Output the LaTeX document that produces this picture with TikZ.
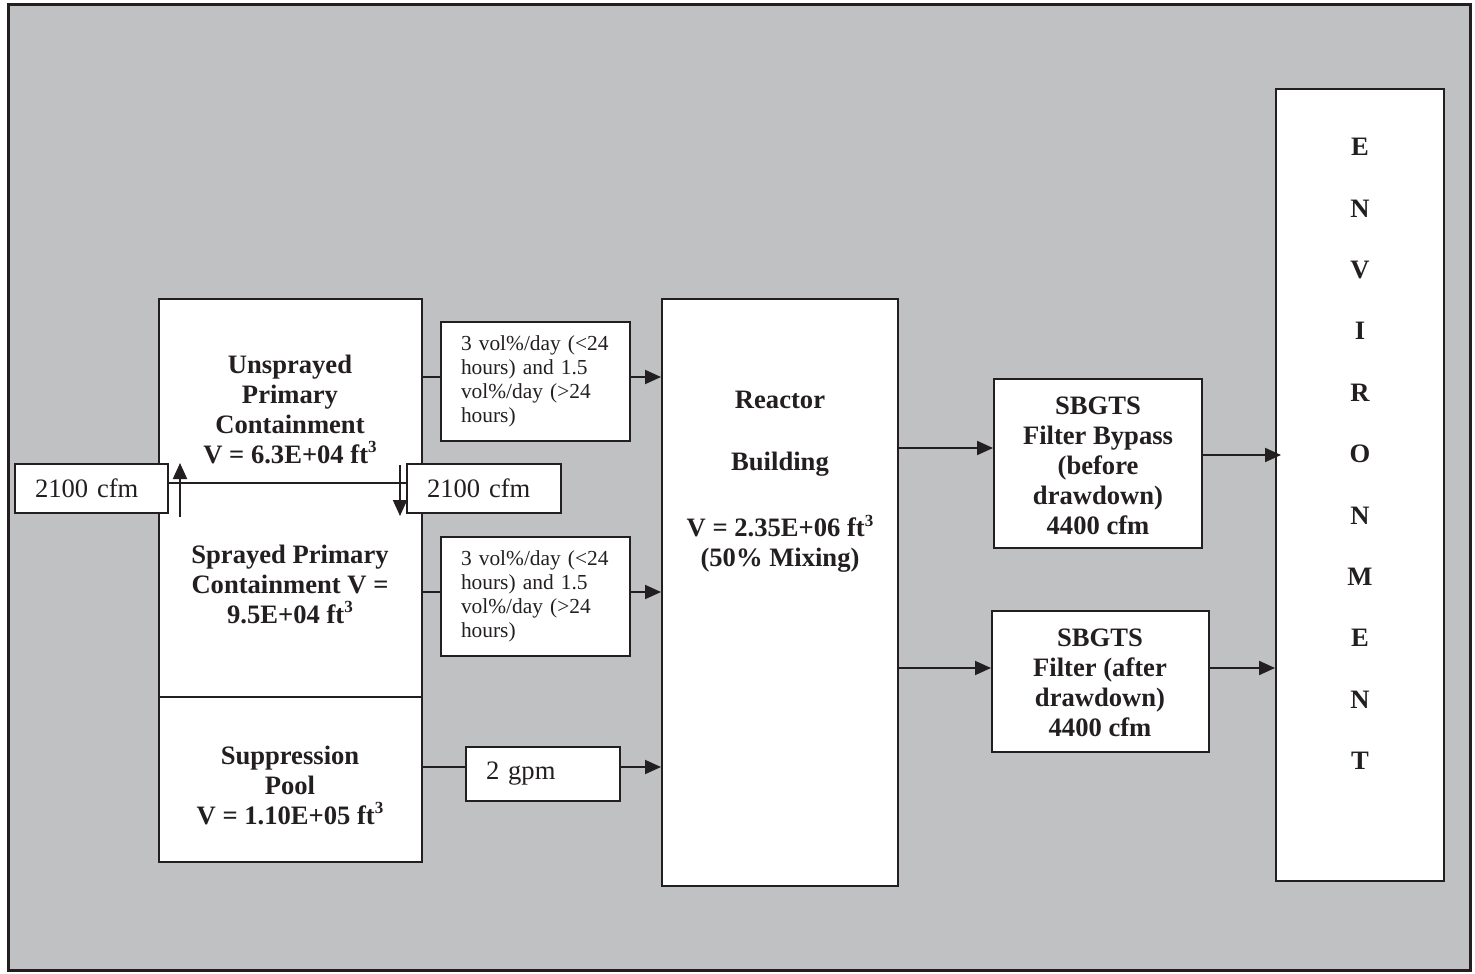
\documentclass[tikz,border=0pt]{standalone}
\usepackage{fontspec}
\setmainfont{Liberation Serif}
\usetikzlibrary{arrows.meta,calc}
\definecolor{bg}{RGB}{192,193,195}
\definecolor{ink}{RGB}{35,31,32}
\newcommand{\cubed}{\raisebox{0.85ex}{\fontsize{8.5}{8.5}\selectfont 3}}
\begin{document}
\begin{tikzpicture}[x=0.5pt,y=-0.5pt,
  blk/.style={draw=ink, fill=white, line width=1pt, inner sep=0pt, text=ink},
  big/.style={font=\fontsize{13.3}{15}\selectfont\bfseries, align=center, text=ink, inner sep=0pt},
  reg/.style={font=\fontsize{13.3}{15}\selectfont},
  small/.style={font=\fontsize{10.7}{12}\selectfont},
  conn/.style={draw=ink, line width=1pt},
  arr/.style={conn, -{Triangle[length=8pt,width=7pt]}}]
\useasboundingbox (0,0) rectangle (1475,973);
\draw[fill=bg, draw=ink, line width=1.5pt] (8,5) rectangle (1470,970);

% left containment box
\node[blk, minimum width=131.5pt, minimum height=281.5pt] (pc) at (290.5,580.5) {};
\draw[conn] (pc.west |- 0,697) -- (pc.east |- 0,697);
\node[big] (uns) at (290,409) {Unsprayed\\Primary\\Containment\\V = 6.3E+04 ft\cubed};
\node[big] (spr) at (290,584) {Sprayed Primary\\Containment V =\\9.5E+04 ft\cubed};
\node[big] (sup) at (290,785) {Suppression\\Pool\\V = 1.10E+05 ft\cubed};

% 2100 cfm boxes
\node[blk, reg, minimum width=76.5pt, minimum height=24.5pt, text width=56.5pt, inner xsep=10pt, align=left] (L2100) at (91.5,488.5) {2100 cfm};
\node[blk, reg, minimum width=77pt, minimum height=24.5pt, text width=57pt, inner xsep=10pt, align=left] (R2100) at (484,488.5) {2100 cfm};

% flow labels
\node[blk, small, minimum width=94.5pt, minimum height=59.5pt, text width=74.5pt, inner xsep=10pt, align=left] (lab1) at (535.5,381.5) {3 vol\%/day (<24\\hours) and 1.5\\vol\%/day (>24\\hours)};
\node[blk, small, minimum width=94.5pt, minimum height=59.5pt, text width=74.5pt, inner xsep=10pt, align=left] (lab2) at (535.5,596.5) {3 vol\%/day (<24\\hours) and 1.5\\vol\%/day (>24\\hours)};
\node[blk, reg, minimum width=77pt, minimum height=27pt, text width=57pt, inner xsep=10pt, align=left] (gpm) at (543,774) {2 gpm};

% reactor building
\node[blk, minimum width=118pt, minimum height=293.5pt] (rb) at (780,592.5) {};
\node[big] (rbt) at (780,482) {Reactor\\[16pt]Building\\[18pt]V = 2.35E+06 ft\cubed\\(50\% Mixing)};

% SBGTS boxes
\node[blk, big, minimum width=104pt, minimum height=84.5pt] (byp) at (1098,463.5) {};
\node[big] (bypt) at (1098,466) {SBGTS\\Filter Bypass\\(before\\drawdown)\\4400 cfm};
\node[blk, big, minimum width=108.5pt, minimum height=70.5pt] (filt) at (1100.5,681.5) {};
\node[big] (filtt) at (1100,683) {SBGTS\\Filter (after\\drawdown)\\4400 cfm};

% environment
\node[blk, minimum width=84pt, minimum height=396pt] (env) at (1360,485) {};
\node[font=\fontsize{13.3}{30.7}\selectfont\bfseries, align=center, text=ink, inner sep=0pt] (envt) at (1360,454) {E\\N\\V\\I\\R\\O\\N\\M\\E\\N\\T};

% exchange arrows
\coordinate (upA) at (180,517);
\coordinate (upB) at (180,463);
\coordinate (dnA) at (400,465);
\coordinate (dnB) at (400,516);
\draw[conn] (L2100.east |- 0,483) -- (R2100.west |- 0,483);
\draw[arr] (upA) -- (upB);
\draw[arr] (dnA) -- (dnB);

% connectors to reactor building
\draw[conn] (pc.east |- 0,377) -- (lab1.west |- 0,377);
\draw[arr] (lab1.east |- 0,377) -- (rb.west |- 0,377);
\draw[conn] (pc.east |- 0,592) -- (lab2.west |- 0,592);
\draw[arr] (lab2.east |- 0,592) -- (rb.west |- 0,592);
\draw[conn] (pc.east |- 0,767) -- (gpm.west |- 0,767);
\draw[arr] (gpm.east |- 0,767) -- (rb.west |- 0,767);

% reactor to SBGTS to environment
\draw[arr] (rb.east |- 0,448) -- (byp.west |- 0,448);
\draw[arr] (byp.east |- 0,455) -- ($(env.west |- 0,455)+(6,0)$);
\draw[arr] (rb.east |- 0,668) -- (filt.west |- 0,668);
\draw[arr] (filt.east |- 0,668) -- (env.west |- 0,668);
\end{tikzpicture}
\end{document}
